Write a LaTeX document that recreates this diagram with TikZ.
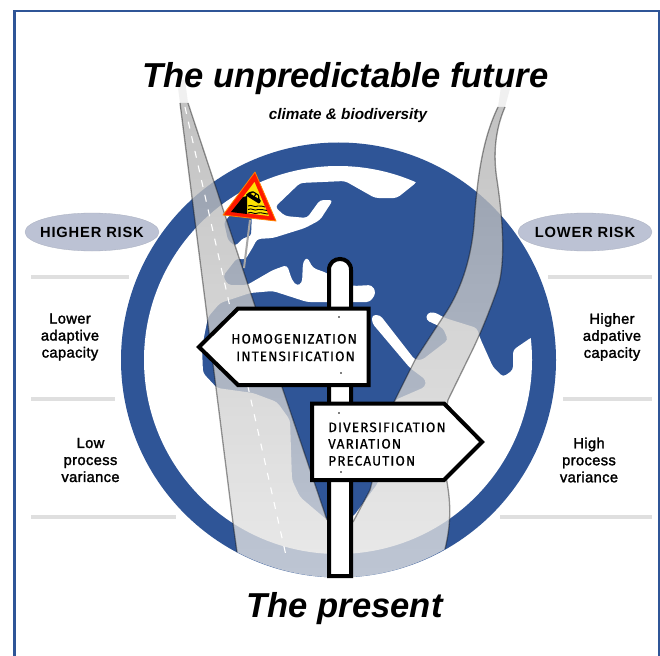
\documentclass[tikz,border=0pt]{standalone}
\usepackage{fontspec}
\setmainfont{Liberation Sans}
\newfontfamily\labfont[FakeBold=1.8,LetterSpace=2.5]{Liberation Sans}
\newfontfamily\riskfont[LetterSpace=5.5]{Liberation Sans}
\newfontfamily\signfont[LetterSpace=8,FakeBold=0.7]{Fira Sans}
\definecolor{globeblue}{HTML}{2F5597}
\definecolor{pillgray}{HTML}{BCC2D4}
\definecolor{rulegray}{HTML}{DFDFDF}
\tikzset{
  rulerline/.style={rulegray,line width=3.5pt},
  pill/.style={fill=pillgray,draw=pillgray!90!black,line width=0.3pt},
  risklabel/.style={font=\riskfont\bfseries\fontsize{14.7}{17}\selectfont},
  lab/.style={align=center,font=\labfont\fontsize{14.7}{17}\selectfont},
  boardline/.style={draw=black,fill=white,line width=4pt,line join=miter},
  boardtext/.style={anchor=base west,inner sep=0pt,font=\signfont\fontsize{13.6}{15}\selectfont},
  roadedge/.style={draw=black,draw opacity=0.4,line width=1.3pt},
  dot/.style={fill=gray,minimum size=2.5pt,inner sep=0pt}
}
\begin{document}
\begin{tikzpicture}[x=1pt,y=-1pt]
\useasboundingbox (0,0) rectangle (660,655);
\fill[white] (0,0) rectangle (660,655);
% frame
\draw[globeblue,line width=2.4pt] (14.5,670) -- (14.5,11) -- (659,11) -- (659,670);
% globe
\fill[globeblue] (338.5,360) circle (217.5pt);
\begin{scope}
\clip (338,360) circle (194pt);
\fill[white,rounded corners=3.5pt]
  (417,100) -- (417,182) -- (397,198) -- (375,198) -- (345,181) -- (300,183) -- (275,207) -- (285,216) -- (307,218) -- (320,200) -- (333,200) -- (320,220) -- (305,228) -- (273,238) -- (257,239) -- (253,247) -- (245,260) -- (237,258) -- (223,276) -- (228,285) -- (247,285) -- (273,270) -- (287,265) -- (292,280) -- (297,286) -- (302,283) -- (303,262) -- (307,257) -- (313,268) -- (327,273) -- (335,280) -- (353,286) -- (372,285) -- (376,293) -- (370,302) -- (327,302) -- (307,302) -- (273,291) -- (250,293) -- (220,303) -- (208,317) -- (202,347) -- (203,373) -- (217,388) -- (253,393) -- (277,402) -- (290,420) -- (292,480) -- (300,497) -- (327,520) -- (353,517) -- (378,483) -- (395,400) -- (425,387) -- (426,380) -- (410,368) -- (372,323) -- (372,315) -- (380,315) -- (415,360) -- (422,360) -- (448,340) -- (443,328) -- (426,320) -- (427,313) -- (434,312) -- (445,318) -- (477,328) -- (480,338) -- (493,367) -- (503,377) -- (513,370) -- (513,350) -- (532,337) -- (620,337) -- (620,620) -- (60,620) -- (60,100) -- cycle;
\fill[globeblue,rounded corners=3pt] (224,222) -- (240,205) -- (252,212) -- (251,236) -- (243,238) -- (235,246) -- (228,240) -- cycle;
\end{scope}
% road tips
\fill[gray!12] (177,80) -- (185,80) -- (188,103) -- (180,103) -- cycle;
\fill[gray!12] (502,80) -- (511,85) -- (505,107) -- (498,107) -- cycle;
% roads
\path[top color=black!30,bottom color=black!10,fill opacity=0.79,draw=none]
  (180,103) -- (188,103) -- (252,297) -- (283,390) -- (327,520) -- (340,535) -- (353,522) -- (370,490)
  .. controls (378,460) and (385,420) .. (395,400) -- (415,360) -- (443,317)
  .. controls (455,300) and (470,270) .. (474,225)
  .. controls (477,180) and (482,140) .. (498,107)
  -- (505,107) .. controls (495,130) and (493,155) .. (497,180)
  .. controls (503,220) and (506,265) .. (497,290)
  .. controls (490,310) and (480,335) .. (470,355) -- (448,400)
  .. controls (442,430) and (443,460) .. (447,482)
  .. controls (450,500) and (452,520) .. (445,549)
  .. controls (380.5,586.2) and (302.4,586.6) .. (237,552) -- (233,523) -- (205,300) -- cycle;
\draw[roadedge] (180,103) -- (205,300) -- (233,523) -- (237,552);
\draw[roadedge] (188,103) -- (252,297) -- (283,390) -- (327,520);
\draw[roadedge] (353,522) -- (370,490)
  .. controls (378,460) and (385,420) .. (395,400) -- (415,360) -- (443,317)
  .. controls (455,300) and (470,270) .. (474,225)
  .. controls (477,180) and (482,140) .. (498,107);
\draw[roadedge] (505,107) .. controls (495,130) and (493,155) .. (497,180)
  .. controls (503,220) and (506,265) .. (497,290)
  .. controls (490,310) and (480,335) .. (470,355) -- (448,400)
  .. controls (442,430) and (443,460) .. (447,482)
  .. controls (450,500) and (452,520) .. (445,549);
\draw[white,line width=1.1pt,dash pattern=on 7pt off 8pt] (185,107) -- (287,560);
% warning sign
\draw[gray!70,line width=2pt] (250,220) -- (244,268);
\fill[red!80!orange,draw=orange,line width=0.8pt,line join=round] (255,172) -- (223,215) -- (276,221) -- cycle;
\fill[yellow!85!orange] (254.5,182) -- (232,211.5) -- (269,216) -- cycle;
\fill[black] (231,212) -- (243,197) -- (247,196) -- (247,214) -- cycle;
\fill[black,rotate around={-32:(254,197)},rounded corners=0.8pt] (247,196) -- (250,192.5) -- (257,192.5) -- (260,196) -- (262,196.5) -- (262,200) -- (246,200) -- cycle;
\fill[yellow!85!orange,rotate around={-32:(254,197)}] (251,193.8) -- (253.3,193.8) -- (253.3,196) -- (249.5,196) -- cycle;
\fill[yellow!85!orange,rotate around={-32:(254,197)}] (254.7,193.8) -- (256.5,193.8) -- (258,196) -- (254.7,196) -- cycle;
\draw[black,line width=0.9pt] (248,206) .. controls (252,204) and (254,208) .. (258,206) .. controls (261,205) and (263,207) .. (265,207);
\draw[black,line width=0.9pt] (248,209.5) .. controls (252,207.5) and (254,211.5) .. (258,209.5) .. controls (261,208.5) and (264,210.5) .. (267,210.5);
\draw[black,line width=0.9pt] (248,213) .. controls (252,211) and (254,215) .. (258,213) .. controls (261,212) and (265,214) .. (268,214);
% side rules
\draw[rulerline] (31,277) -- (129,277);
\draw[rulerline] (31,399) -- (115,399);
\draw[rulerline] (31,517) -- (176,517);
\draw[rulerline] (548,277) -- (652,277);
\draw[rulerline] (563,399) -- (652,399);
\draw[rulerline] (500,517) -- (652,517);
\path[pill] (92,232) circle[x radius=67pt,y radius=19pt];
\path[pill] (585,232) circle[x radius=67pt,y radius=19pt];
\node[risklabel] (hrisk) at (92,232) {HIGHER RISK};
\node[risklabel] (lrisk) at (585,232) {LOWER RISK};
\node[lab] (lcap) at (70,337) {Lower\\adaptive\\capacity};
\node[lab] (lvar) at (90.5,460) {Low\\process\\variance};
\node[lab] (hcap) at (612,337) {Higher\\adpative\\capacity};
\node[lab] (hvar) at (589,460) {High\\process\\variance};
% titles
\node[font=\bfseries\itshape\fontsize{34.6}{40}\selectfont] (title) at (345.5,79) {The unpredictable future};
\node[font=\bfseries\itshape\fontsize{15.3}{17}\selectfont] (sub) at (348,116) {climate \& biodiversity};
\node[font=\bfseries\itshape\fontsize{34.6}{40}\selectfont] (present) at (344.5,609) {The present};
% post
\draw[boardline] (329,576) -- (329,270) .. controls (329,255.3) and (351,255.3) .. (351,270) -- (351,576) -- cycle;
% boards
\draw[boardline] (199,347) -- (238,308.5) -- (368.5,308.5) -- (368.5,385) -- (238,385) -- cycle;
\draw[boardline] (312,403.5) -- (444,403.5) -- (482,442) -- (444,480) -- (312,480) -- cycle;
\node[dot] (d1) at (339,317) {};
\node[dot] (d2) at (341,373) {};
\node[dot] (d3) at (339,413) {};
\node[dot] (d4) at (341,472) {};
\node[boardtext] (t1) at (231,343.5) {HOMOGENIZATION};
\node[boardtext] (t2) at (236,361) {INTENSIFICATION};
\node[boardtext] (t3) at (328,432) {DIVERSIFICATION};
\node[boardtext] (t4) at (328,448.5) {VARIATION};
\node[boardtext] (t5) at (328,465.5) {PRECAUTION};
\end{tikzpicture}
\end{document}
